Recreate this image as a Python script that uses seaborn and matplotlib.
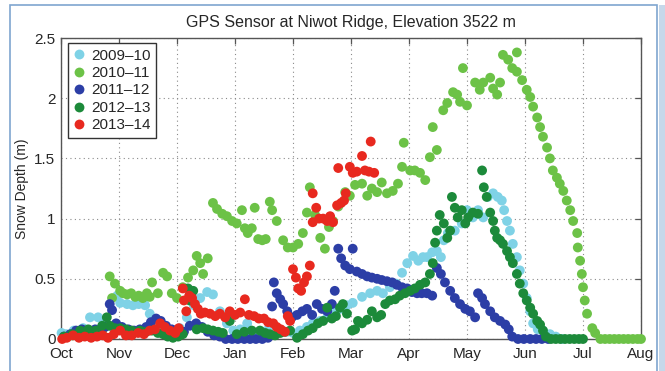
import numpy as np
import pandas as pd
import matplotlib
matplotlib.use("Agg")
import matplotlib.pyplot as plt
from matplotlib.patches import Rectangle
import seaborn as sns

# Seasons shown in the legend (drawing order: later seasons on top)
seasons = ["2009\u201310", "2010\u201311", "2011\u201312", "2012\u201313", "2013\u201314"]
colors = ["#7fd2e6", "#6cc247", "#2c3ea6", "#1c8a3a", "#e8291f"]
month_labels = ["Oct", "Nov", "Dec", "Jan", "Feb", "Mar", "Apr", "May", "Jun", "Jul", "Aug"]

# x: months since 1 October, y: snow depth in metres
x_0910 = [0.01, 0.09, 0.22, 0.38, 0.50, 0.64, 0.74, 0.84, 0.97, 1.02, 1.14, 1.24, 1.34, 1.45,
          1.53, 1.66, 1.79, 1.93, 2.05, 2.17, 2.29, 2.40, 2.52, 2.62, 2.74, 2.86, 2.97, 3.09,
          3.21, 3.31, 3.43, 3.55, 3.67, 3.78, 3.90, 4.00, 4.12, 4.24, 4.34, 4.47, 4.59, 4.69,
          4.81, 4.93, 5.03, 5.19, 5.33, 5.45, 5.55, 5.67, 5.78, 5.88, 5.97, 6.07, 6.16, 6.24,
          6.31, 6.40, 6.48, 6.55, 6.60, 6.67, 6.79, 6.91, 7.00, 7.10, 7.19, 7.28, 7.36, 7.45,
          7.53, 7.60, 7.64, 7.69, 7.74, 7.79, 7.86, 7.91, 7.97, 8.03, 8.09, 8.14, 8.22, 8.31,
          8.43, 8.53, 8.64]
y_0910 = [0.05, 0.04, 0.07, 0.09, 0.18, 0.18, 0.14, 0.11, 0.36, 0.30, 0.29, 0.28, 0.29, 0.28,
          0.21, 0.13, 0.09, 0.07, 0.09, 0.18, 0.28, 0.34, 0.39, 0.37, 0.23, 0.13, 0.07, 0.08,
          0.13, 0.03, 0.05, 0.07, 0.08, 0.08, 0.06, 0.05, 0.07, 0.10, 0.13, 0.15, 0.18, 0.22,
          0.25, 0.28, 0.30, 0.35, 0.38, 0.40, 0.38, 0.43, 0.46, 0.55, 0.63, 0.69, 0.65, 0.68,
          0.68, 0.72, 0.73, 0.68, 0.82, 0.88, 0.90, 0.96, 1.07, 1.01, 1.07, 1.01, 1.18, 1.21,
          1.18, 1.15, 1.07, 0.98, 0.90, 0.79, 0.68, 0.57, 0.46, 0.34, 0.23, 0.13, 0.08, 0.07,
          0.04, 0.02, 0.00]

x_1011 = [0.09, 0.19, 0.33, 0.47, 0.59, 0.71, 0.84, 0.88, 0.93, 1.02, 1.07, 1.14, 1.21, 1.28,
          1.34, 1.41, 1.48, 1.53, 1.57, 1.67, 1.76, 1.83, 1.91, 2.00, 2.10, 2.19, 2.28, 2.34,
          2.40, 2.45, 2.53, 2.62, 2.69, 2.78, 2.86, 2.95, 3.03, 3.12, 3.17, 3.22, 3.29, 3.34,
          3.40, 3.47, 3.53, 3.60, 3.64, 3.72, 3.83, 3.91, 4.00, 4.09, 4.17, 4.24, 4.29, 4.38,
          4.47, 4.55, 4.62, 4.69, 4.78, 4.90, 4.98, 5.07, 5.19, 5.28, 5.36, 5.45, 5.53, 5.62,
          5.72, 5.81, 5.88, 5.91, 6.02, 6.10, 6.19, 6.28, 6.36, 6.41, 6.48, 6.59, 6.66, 6.76,
          6.83, 6.88, 6.93, 7.00, 7.14, 7.22, 7.28, 7.40, 7.45, 7.52, 7.57, 7.62, 7.71, 7.78,
          7.86, 7.86, 7.95, 8.03, 8.09, 8.14, 8.21, 8.26, 8.31, 8.38, 8.43, 8.48, 8.55, 8.60,
          8.66, 8.72, 8.78, 8.83, 8.90, 8.91, 8.95, 8.98, 9.00, 9.03, 9.07, 9.16, 9.21, 9.30,
          9.38, 9.46, 9.54, 9.62, 9.70, 9.78, 9.86, 9.94, 10.00]
y_1011 = [0.02, 0.03, 0.04, 0.05, 0.07, 0.07, 0.52, 0.34, 0.46, 0.40, 0.38, 0.37, 0.38, 0.35,
          0.36, 0.34, 0.38, 0.35, 0.47, 0.38, 0.55, 0.52, 0.38, 0.34, 0.43, 0.51, 0.57, 0.69,
          0.63, 0.54, 0.67, 1.13, 1.08, 1.04, 1.02, 0.98, 0.96, 1.07, 0.92, 0.88, 0.92, 1.09,
          0.83, 0.82, 0.83, 1.14, 1.07, 0.98, 0.82, 0.76, 0.76, 0.79, 0.88, 1.05, 1.26, 1.03,
          0.84, 0.75, 0.93, 0.98, 1.10, 1.22, 1.19, 1.28, 1.29, 1.19, 1.25, 1.22, 1.30, 1.21,
          1.23, 1.29, 1.43, 1.63, 1.40, 1.40, 1.38, 1.32, 1.51, 1.76, 1.57, 1.90, 1.96, 2.05,
          2.03, 1.97, 2.25, 1.94, 2.13, 2.07, 2.13, 2.17, 2.08, 2.03, 2.13, 2.36, 2.32, 2.25,
          2.38, 2.22, 2.15, 2.07, 2.01, 1.93, 1.84, 1.76, 1.68, 1.59, 1.50, 1.40, 1.34, 1.29,
          1.23, 1.15, 1.07, 0.98, 0.88, 0.76, 0.65, 0.54, 0.43, 0.32, 0.21, 0.09, 0.05, 0.00,
          0.00, 0.00, 0.00, 0.00, 0.00, 0.00, 0.00, 0.00, 0.00]

x_1112 = [0.05, 0.16, 0.26, 0.36, 0.47, 0.59, 0.67, 0.76, 0.84, 0.88, 0.95, 1.05, 1.16, 1.26,
          1.36, 1.47, 1.55, 1.64, 1.72, 1.81, 1.91, 2.02, 2.12, 2.22, 2.33, 2.43, 2.53, 2.64,
          2.74, 2.84, 2.95, 3.05, 3.16, 3.26, 3.36, 3.47, 3.57, 3.64, 3.67, 3.72, 3.78, 3.83,
          3.90, 3.98, 4.07, 4.16, 4.24, 4.33, 4.41, 4.50, 4.59, 4.67, 4.72, 4.78, 4.83, 4.90,
          4.98, 5.03, 5.10, 5.19, 5.28, 5.36, 5.45, 5.53, 5.62, 5.71, 5.79, 5.88, 5.97, 6.05,
          6.14, 6.22, 6.31, 6.40, 6.48, 6.55, 6.62, 6.71, 6.79, 6.88, 6.97, 7.05, 7.14, 7.19,
          7.26, 7.31, 7.40, 7.48, 7.57, 7.66, 7.72, 7.78, 7.88, 7.98, 8.09, 8.19, 8.29, 8.40]
y_1112 = [0.02, 0.04, 0.07, 0.08, 0.05, 0.08, 0.07, 0.10, 0.29, 0.24, 0.13, 0.10, 0.08, 0.07,
          0.08, 0.10, 0.14, 0.17, 0.15, 0.11, 0.08, 0.07, 0.06, 0.11, 0.13, 0.10, 0.06, 0.03,
          0.02, 0.00, 0.00, 0.00, 0.00, 0.00, 0.00, 0.00, 0.01, 0.27, 0.47, 0.38, 0.33, 0.29,
          0.23, 0.18, 0.20, 0.23, 0.25, 0.20, 0.29, 0.25, 0.23, 0.29, 0.40, 0.75, 0.67, 0.61,
          0.58, 0.75, 0.56, 0.54, 0.52, 0.51, 0.50, 0.49, 0.48, 0.47, 0.45, 0.43, 0.42, 0.39,
          0.38, 0.38, 0.38, 0.36, 0.59, 0.54, 0.47, 0.40, 0.34, 0.29, 0.25, 0.23, 0.18, 0.38,
          0.34, 0.29, 0.23, 0.18, 0.15, 0.12, 0.08, 0.02, 0.00, 0.00, 0.00, 0.00, 0.00, 0.00]

x_1213 = [0.05, 0.19, 0.33, 0.47, 0.60, 0.71, 0.79, 0.84, 0.93, 1.02, 1.12, 1.22, 1.36, 1.47,
          1.57, 1.67, 1.76, 1.84, 1.93, 2.02, 2.10, 2.19, 2.22, 2.28, 2.34, 2.45, 2.53, 2.62,
          2.71, 2.79, 2.91, 3.03, 3.16, 3.29, 3.43, 3.52, 3.60, 3.69, 3.78, 3.86, 3.95, 4.07,
          4.17, 4.26, 4.34, 4.43, 4.52, 4.59, 4.67, 4.74, 4.81, 4.86, 4.93, 5.02, 5.07, 5.12,
          5.19, 5.28, 5.36, 5.45, 5.52, 5.59, 5.67, 5.76, 5.84, 5.93, 6.02, 6.10, 6.19, 6.28,
          6.36, 6.41, 6.45, 6.48, 6.53, 6.60, 6.66, 6.71, 6.74, 6.79, 6.84, 6.91, 6.97, 7.02,
          7.10, 7.19, 7.26, 7.29, 7.34, 7.40, 7.45, 7.48, 7.52, 7.57, 7.62, 7.69, 7.74, 7.79,
          7.86, 7.91, 7.97, 8.03, 8.09, 8.14, 8.21, 8.26, 8.31, 8.36, 8.45, 8.53, 8.61, 8.69,
          8.77, 8.85, 8.93, 9.00]
y_1213 = [0.02, 0.04, 0.07, 0.08, 0.07, 0.11, 0.18, 0.11, 0.09, 0.09, 0.08, 0.07, 0.07, 0.06,
          0.07, 0.05, 0.04, 0.02, 0.01, 0.02, 0.04, 0.42, 0.32, 0.40, 0.08, 0.09, 0.08, 0.07,
          0.06, 0.05, 0.15, 0.04, 0.06, 0.07, 0.07, 0.05, 0.04, 0.03, 0.05, 0.06, 0.07, 0.01,
          0.04, 0.07, 0.09, 0.13, 0.15, 0.26, 0.17, 0.19, 0.26, 0.29, 0.21, 0.07, 0.08, 0.15,
          0.13, 0.16, 0.23, 0.18, 0.20, 0.29, 0.32, 0.33, 0.36, 0.38, 0.40, 0.42, 0.45, 0.47,
          0.54, 0.63, 0.80, 0.90, 1.03, 0.96, 0.84, 0.90, 1.18, 1.09, 1.01, 1.07, 0.96, 1.01,
          1.05, 1.04, 1.40, 1.26, 1.18, 1.05, 0.98, 0.90, 0.84, 0.82, 0.79, 0.73, 0.68, 0.63,
          0.54, 0.46, 0.38, 0.32, 0.26, 0.21, 0.15, 0.12, 0.07, 0.02, 0.00, 0.00, 0.00, 0.00,
          0.00, 0.00, 0.00, 0.00]

x_1314 = [0.02, 0.10, 0.21, 0.31, 0.41, 0.52, 0.62, 0.72, 0.81, 0.91, 1.02, 1.12, 1.22, 1.33,
          1.43, 1.53, 1.62, 1.71, 1.79, 1.88, 1.97, 2.03, 2.10, 2.12, 2.16, 2.21, 2.26, 2.31,
          2.36, 2.41, 2.48, 2.57, 2.66, 2.74, 2.83, 2.91, 3.00, 3.09, 3.17, 3.24, 3.33, 3.41,
          3.50, 3.57, 3.66, 3.72, 3.79, 3.86, 3.91, 3.95, 4.00, 4.05, 4.09, 4.14, 4.19, 4.24,
          4.29, 4.34, 4.34, 4.40, 4.45, 4.52, 4.59, 4.64, 4.69, 4.76, 4.78, 4.83, 4.88, 4.91,
          4.98, 5.03, 5.10, 5.19, 5.24, 5.31, 5.34, 5.40]
y_1314 = [0.00, 0.01, 0.03, 0.01, 0.02, 0.01, 0.02, 0.03, 0.01, 0.04, 0.07, 0.03, 0.03, 0.05,
          0.04, 0.07, 0.08, 0.13, 0.10, 0.07, 0.05, 0.09, 0.42, 0.32, 0.23, 0.36, 0.34, 0.29,
          0.25, 0.21, 0.22, 0.21, 0.19, 0.21, 0.18, 0.23, 0.20, 0.22, 0.33, 0.20, 0.19, 0.17,
          0.17, 0.14, 0.13, 0.10, 0.08, 0.06, 0.19, 0.15, 0.58, 0.51, 0.42, 0.40, 0.47, 0.52,
          0.61, 1.21, 0.97, 1.09, 1.00, 1.00, 0.98, 1.02, 0.97, 1.11, 1.42, 1.13, 1.15, 1.21,
          1.43, 1.38, 1.39, 1.52, 1.40, 1.39, 1.64, 1.38]

series_x = [x_0910, x_1011, x_1112, x_1213, x_1314]
series_y = [y_0910, y_1011, y_1112, y_1213, y_1314]
df = pd.concat(
    [pd.DataFrame({"month": xs, "depth": ys, "season": s})
     for s, xs, ys in zip(seasons, series_x, series_y)],
    ignore_index=True,
)

sns.set_theme(style="white")
plt.rcParams["font.family"] = ["Liberation Sans", "DejaVu Sans"]

fig = plt.figure(figsize=(6.65, 3.71), dpi=100)
ax = fig.add_axes([61 / 665, 1 - 339 / 371, 580 / 665, 301 / 371])

sns.scatterplot(data=df, x="month", y="depth", hue="season", hue_order=seasons,
                palette=dict(zip(seasons, colors)), s=50, linewidth=0,
                ax=ax, legend=True, clip_on=False, zorder=3)

ax.set_xlim(0, 10)
ax.set_ylim(0, 2.5)
ax.set_xticks(np.arange(len(month_labels)))
ax.set_xticklabels(month_labels)
ax.set_yticks([0, 0.5, 1, 1.5, 2, 2.5])
ax.set_yticklabels(["0", "0.5", "1", "1.5", "2", "2.5"])
ax.set_xlabel("")
ax.set_ylabel("Snow Depth (m)", fontsize=10, labelpad=4)
ax.set_title("GPS Sensor at Niwot Ridge, Elevation 3522 m", fontsize=11.5, pad=8)

ax.grid(True, linestyle=(0, (1, 3)), color="#8a8a8a", linewidth=0.8)
ax.set_axisbelow(True)
for sp in ax.spines.values():
    sp.set_color("#555555")
    sp.set_linewidth(1.0)
ax.tick_params(direction="in", length=4, width=0.9, color="#555555",
               top=True, right=True, labelsize=11, pad=4)
ax.tick_params(axis="x", pad=6)

handles, labels = ax.get_legend_handles_labels()
ax.legend(handles, labels, loc="upper left", bbox_to_anchor=(0.012, 0.982),
          borderaxespad=0, frameon=True, fancybox=False, edgecolor="#333333",
          fontsize=11, handlelength=0.7, handletextpad=0.5, labelspacing=0.22,
          borderpad=0.35, markerscale=1.0, framealpha=1)
ax.get_legend().get_frame().set_linewidth(1.0)
for t in ax.get_legend().get_texts():
    t.set_fontweight("medium")

# panel frame around the figure
fig.patches.append(Rectangle((10 / 665, -0.05), 647 / 665, 1.05 - 5 / 371,
                             transform=fig.transFigure, fill=False,
                             edgecolor="#7fa6d0", linewidth=1.2, zorder=0))
fig.patches.append(Rectangle((659 / 665, 0), 6 / 665, 1 - 5 / 371,
                             transform=fig.transFigure, facecolor="#c6d8ea",
                             edgecolor="none", zorder=0))

fig.savefig("out.png", dpi=100)
